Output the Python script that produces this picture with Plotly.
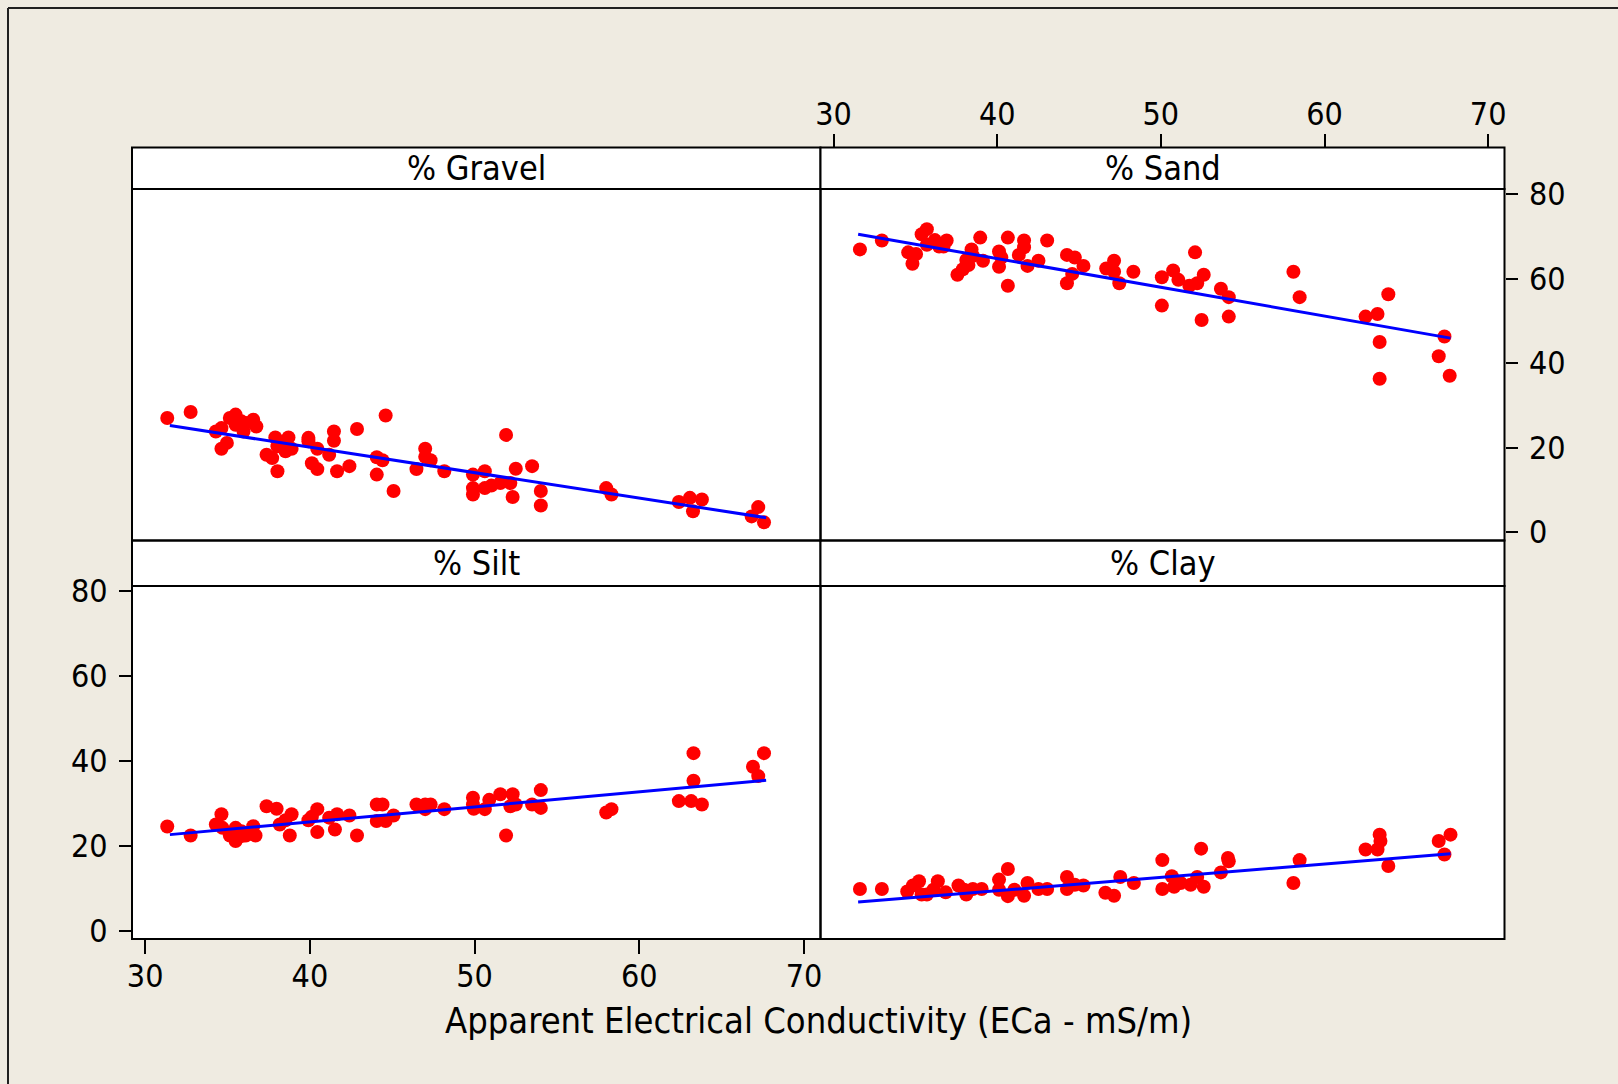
import plotly.graph_objects as go

# ---------------- data ----------------
ec_gravel = [31.34, 32.76, 35.14, 35.49, 35.84, 36.11, 36.56, 36.75, 35.97, 34.29,
             34.63, 34.96, 34.63, 35.49, 37.90, 38.70, 38.03, 38.44, 38.89, 38.52,
             37.37, 37.71, 38.03, 39.91, 39.91, 40.45, 41.17, 41.46, 41.46, 40.12,
             40.45, 41.65, 42.40, 42.86, 44.60, 44.06, 44.41, 44.06, 45.08, 47.00,
             47.00, 47.33, 46.47, 48.16, 49.90, 50.62, 49.90, 49.90, 50.62, 51.02,
             51.56, 52.17, 51.91, 52.50, 52.31, 53.49, 54.02, 54.02, 57.99, 58.31,
             62.40, 63.07, 63.80, 63.26, 67.22, 66.82, 67.57]
pct_gravel = [27.0, 28.4, 27.0, 27.8, 26.2, 25.8, 26.6, 25.0, 23.8, 23.8,
              24.6, 21.1, 19.7, 25.4, 22.4, 22.4, 20.3, 21.1, 19.7, 19.1,
              18.3, 17.5, 14.4, 22.3, 21.5, 19.7, 18.3, 23.8, 21.6, 16.3,
              14.9, 14.4, 15.6, 24.4, 27.6, 17.7, 17.0, 13.6, 9.7, 19.7,
              17.8, 17.0, 14.9, 14.4, 13.6, 14.4, 10.4, 8.9, 10.4, 11.0,
              11.6, 11.6, 23.0, 15.0, 8.3, 15.6, 9.7, 6.3, 10.4, 8.9,
              7.1, 8.1, 7.7, 4.9, 5.9, 3.7, 2.3]

ec_sand = [31.61, 32.95, 34.56, 35.04, 34.82, 35.38, 35.70, 35.70, 36.19, 36.45,
           36.91, 36.72, 37.57, 37.90, 38.24, 38.11, 38.43, 38.51, 39.13, 38.96,
           40.11, 40.25, 40.11, 40.65, 40.65, 41.32, 41.64, 41.64, 41.85, 42.52,
           43.05, 44.26, 44.74, 45.27, 44.58, 44.26, 47.14, 46.66, 47.14, 47.46,
           48.32, 50.06, 50.75, 51.07, 51.74, 52.22, 52.62, 52.09, 50.06, 52.49,
           53.67, 54.15, 54.15, 58.10, 58.48, 62.51, 63.24, 63.90, 63.37, 63.37,
           67.33, 66.98, 67.65]
pct_sand = [66.9, 69.0, 66.2, 65.8, 63.5, 70.5, 71.7, 68.0, 69.1, 67.6,
            69.0, 67.6, 60.9, 62.2, 63.2, 64.4, 66.9, 65.4, 64.2, 69.7,
            66.4, 65.0, 62.8, 69.7, 58.3, 65.6, 69.0, 67.4, 63.0, 64.2,
            69.0, 65.6, 65.0, 63.0, 61.1, 58.9, 64.2, 62.4, 61.6, 58.9,
            61.6, 60.3, 61.9, 59.7, 58.3, 58.9, 60.9, 66.2, 53.6, 50.2,
            57.6, 55.6, 51.0, 61.6, 55.6, 51.0, 51.6, 56.3, 45.0, 36.3,
            46.3, 41.6, 37.0]

ec_silt = [31.34, 32.76, 34.63, 34.29, 34.69, 35.14, 35.49, 35.49, 35.84, 36.11,
           36.56, 36.70, 35.89, 37.37, 37.98, 38.17, 38.52, 38.89, 38.78, 39.91,
           40.45, 40.12, 40.45, 41.17, 41.52, 41.65, 42.40, 42.86, 44.06, 44.41,
           44.06, 44.60, 45.08, 46.47, 47.00, 47.33, 47.00, 48.16, 49.90, 49.90,
           49.95, 50.62, 50.89, 51.56, 52.31, 52.17, 52.50, 51.91, 53.49, 54.02,
           54.02, 57.99, 58.31, 62.40, 63.15, 63.80, 63.29, 63.29, 66.90, 67.22,
           67.57]
pct_silt = [24.5, 22.4, 27.4, 25.0, 24.2, 22.4, 21.1, 24.2, 23.4, 22.4,
            24.6, 22.4, 22.3, 29.3, 28.7, 25.0, 26.0, 27.4, 22.4, 26.0,
            28.6, 26.8, 23.2, 26.6, 23.8, 27.4, 27.1, 22.4, 29.7, 29.7,
            25.8, 25.8, 27.1, 29.7, 29.7, 29.7, 28.6, 28.6, 31.3, 29.7,
            28.7, 28.6, 30.8, 32.1, 32.1, 29.3, 29.7, 22.4, 29.7, 28.9,
            33.1, 27.8, 28.6, 30.5, 30.5, 29.7, 41.8, 35.3, 38.6, 36.4,
            41.8]

ec_clay = [31.61, 32.95, 34.50, 34.85, 35.22, 35.38, 35.70, 36.10, 36.37, 36.85,
           37.63, 37.98, 38.11, 38.51, 39.05, 40.11, 40.11, 40.65, 40.65, 41.05,
           41.64, 41.85, 42.52, 43.05, 44.26, 44.26, 44.74, 45.27, 46.61, 47.14,
           47.52, 48.35, 50.09, 50.09, 50.67, 50.81, 51.21, 51.82, 52.22, 52.62,
           52.46, 53.67, 54.10, 54.15, 58.10, 58.48, 62.51, 63.24, 63.37, 63.42,
           63.90, 66.98, 67.70, 67.33]
pct_clay = [9.8, 9.8, 9.2, 10.6, 11.6, 8.5, 8.5, 9.6, 11.6, 9.0,
            10.6, 9.6, 8.5, 9.8, 9.8, 12.0, 9.6, 14.5, 8.1, 9.6,
            8.2, 11.2, 9.8, 9.8, 12.6, 9.8, 10.8, 10.6, 8.9, 8.2,
            12.6, 11.2, 16.6, 9.8, 12.8, 10.3, 11.2, 10.8, 12.6, 10.3,
            19.3, 13.7, 17.1, 16.3, 11.2, 16.6, 19.1, 19.1, 22.6, 21.1,
            15.2, 21.1, 22.6, 17.9]

# fitted-line end points
fit_ec = [31.5, 67.7]
fit_gravel = [25.2, 3.4]
fit_sand = [70.5, 45.9]
fit_silt = [22.6, 35.4]
fit_clay = [6.7, 18.1]

panel_titles = ["% Gravel", "% Sand", "% Silt", "% Clay"]
x_ticks = [30, 40, 50, 60, 70]
y_ticks = [0, 20, 40, 60, 80]
x_title = "Apparent Electrical Conductivity (ECa - mS/m)"

# ---------------- layout geometry ----------------
W, H = 1618, 1084
def px(x):
    return x / W
def py(y):
    return 1 - y / H

xl0, xm, xr1 = 132, 820.5, 1504.5
top_strip0, top_plot0, mid, bot_strip1, bot = 147.5, 189, 540.5, 586, 939

col_dom = [[px(xl0), px(xm)], [px(xm), px(xr1)]]
row_dom = [[py(mid), py(top_plot0)], [py(bot), py(bot_strip1)]]

FONT = "DejaVu Sans Condensed, Open Sans, DejaVu Sans, sans-serif"
BG = "#EFEBE1"

fig = go.Figure()
series = [(ec_gravel, pct_gravel, fit_gravel),
          (ec_sand, pct_sand, fit_sand),
          (ec_silt, pct_silt, fit_silt),
          (ec_clay, pct_clay, fit_clay)]
for i, (xs, ys, fit) in enumerate(series):
    ax = "" if i == 0 else str(i + 1)
    fig.add_trace(go.Scatter(x=xs, y=ys, mode="markers",
                             marker=dict(color="#FF0000", size=14, line=dict(width=0)),
                             xaxis="x" + ax, yaxis="y" + ax, showlegend=False,
                             hoverinfo="skip"))
    fig.add_trace(go.Scatter(x=fit_ec, y=fit, mode="lines",
                             line=dict(color="#0000FF", width=3),
                             xaxis="x" + ax, yaxis="y" + ax, showlegend=False,
                             hoverinfo="skip"))

xr = [29.2, 71.0]
yr = [-2.0, 81.2]
base_x = dict(range=xr, showgrid=False, zeroline=False, showline=False, automargin=False,
              tickvals=x_ticks, ticks="outside", ticklen=14, tickwidth=2,
              tickcolor="black", tickfont=dict(family=FONT, size=32, color="black"))
base_y = dict(range=yr, showgrid=False, zeroline=False, showline=False, automargin=False,
              tickvals=y_ticks, ticks="outside", ticklen=12, tickwidth=2,
              tickcolor="black", tickfont=dict(family=FONT, size=32, color="black"))
hidden = dict(showticklabels=False, ticks="")

layout = dict(
    template="none",
    width=W, height=H, autosize=False,
    margin=dict(l=0, r=0, t=0, b=0, pad=0, autoexpand=False),
    paper_bgcolor=BG, plot_bgcolor="white", showlegend=False,
    font=dict(family=FONT, color="black"),
    xaxis=dict(base_x, domain=col_dom[0], anchor="y", **hidden),
    yaxis=dict(base_y, domain=row_dom[0], anchor="x", **hidden),
    xaxis2=dict(base_x, domain=col_dom[1], anchor="free", position=py(top_strip0),
                side="top", ticklabelstandoff=-4),
    yaxis2=dict(base_y, domain=row_dom[0], anchor="x2", side="right", ticklabelstandoff=5),
    xaxis3=dict(base_x, domain=col_dom[0], anchor="y3", side="bottom", ticklabelstandoff=-5),
    yaxis3=dict(base_y, domain=row_dom[1], anchor="x3", side="left", ticklabelstandoff=5),
    xaxis4=dict(base_x, domain=col_dom[1], anchor="y4", **hidden),
    yaxis4=dict(base_y, domain=row_dom[1], anchor="x4", **hidden),
)
fig.update_layout(**layout)

shapes = []
lw = 2
# strips
for (y0, y1) in [(top_strip0, top_plot0), (mid, bot_strip1)]:
    for (x0, x1) in [(xl0, xm), (xm, xr1)]:
        shapes.append(dict(type="rect", xref="paper", yref="paper",
                           x0=px(x0), x1=px(x1), y0=py(y1), y1=py(y0),
                           fillcolor="white", line=dict(color="black", width=lw), layer="below"))
# panel frames
for (y0, y1) in [(top_plot0, mid), (bot_strip1, bot)]:
    for (x0, x1) in [(xl0, xm), (xm, xr1)]:
        shapes.append(dict(type="rect", xref="paper", yref="paper",
                           x0=px(x0), x1=px(x1), y0=py(y1), y1=py(y0),
                           line=dict(color="black", width=lw), layer="above"))
# outer border (top and left edges of the window)
shapes.append(dict(type="line", xref="paper", yref="paper",
                   x0=px(8), x1=1, y0=py(8), y1=py(8), line=dict(color="#202020", width=2)))
shapes.append(dict(type="line", xref="paper", yref="paper",
                   x0=px(8), x1=px(8), y0=0, y1=py(8), line=dict(color="#202020", width=2)))

annotations = []
centers = [((xl0 + xm) / 2, (top_strip0 + top_plot0) / 2),
           ((xm + xr1) / 2, (top_strip0 + top_plot0) / 2),
           ((xl0 + xm) / 2, (mid + bot_strip1) / 2),
           ((xm + xr1) / 2, (mid + bot_strip1) / 2)]
for t, (cx, cy) in zip(panel_titles, centers):
    annotations.append(dict(text=t, xref="paper", yref="paper", x=px(cx), y=py(cy),
                            xanchor="center", yanchor="middle", showarrow=False,
                            font=dict(family=FONT, size=34, color="black")))
annotations.append(dict(text=x_title, xref="paper", yref="paper",
                        x=px((xl0 + xr1) / 2), y=py(1020), xanchor="center", yanchor="middle",
                        showarrow=False, font=dict(family=FONT, size=36, color="black")))

fig.update_layout(shapes=shapes, annotations=annotations)
fig.write_html("out.html", config={"displayModeBar": False},
               post_script="document.body.style.margin='0';document.body.style.overflow='hidden';")
